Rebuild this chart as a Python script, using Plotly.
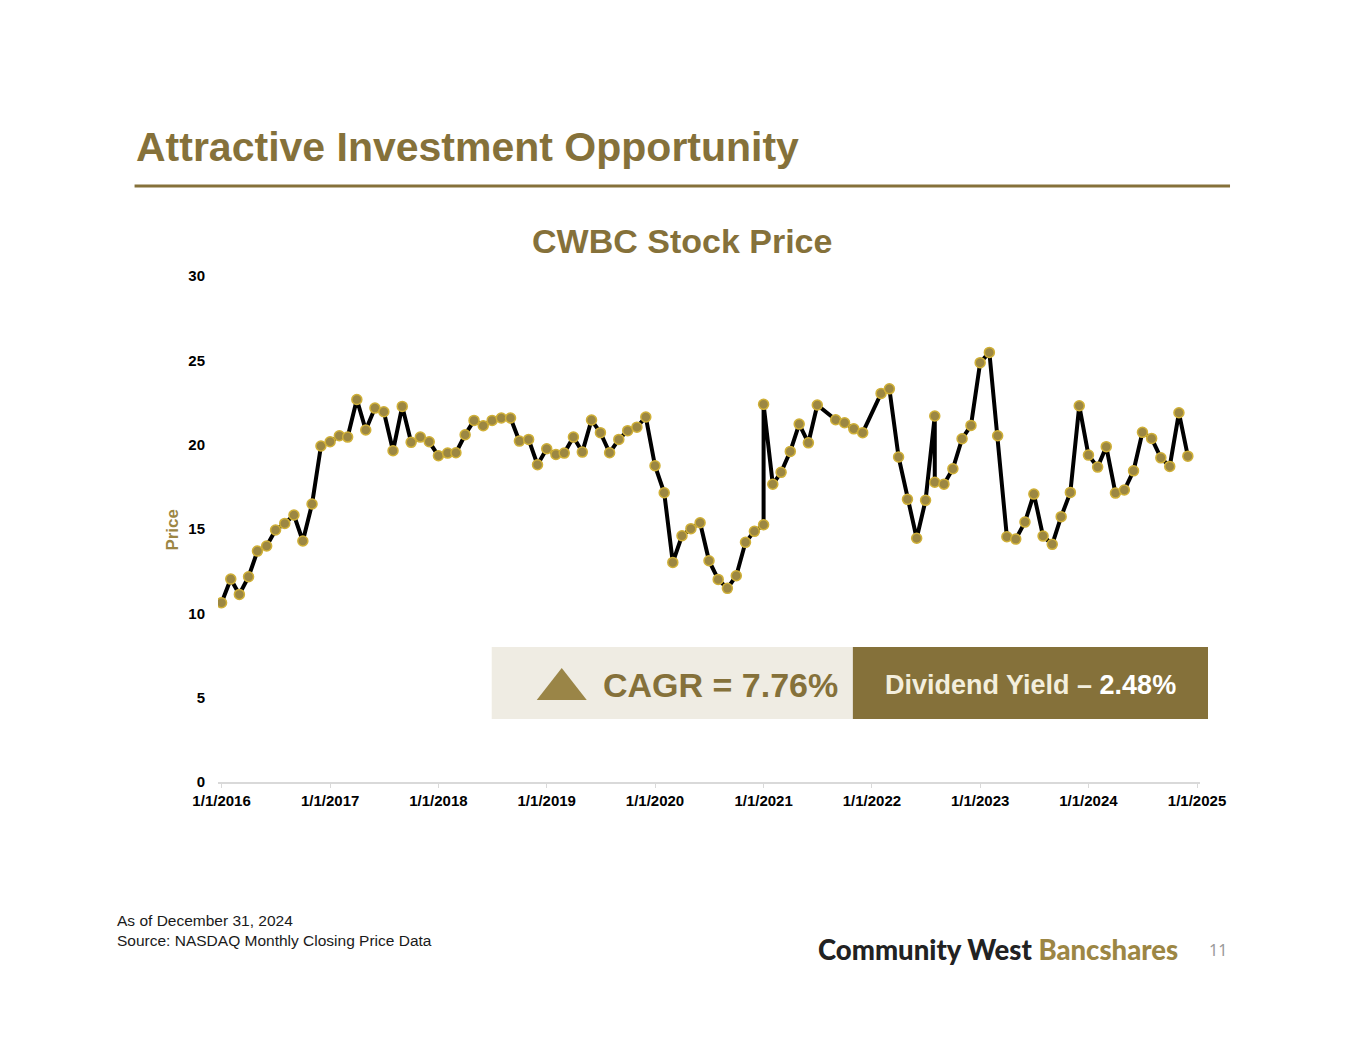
import plotly.graph_objects as go

# monthly closing prices (duplicate / missing months kept as drawn)
months = [
    "2016-01", "2016-02", "2016-03", "2016-04", "2016-05", "2016-06", "2016-07", "2016-08", "2016-09", "2016-10", "2016-11", "2016-12",
    "2017-01", "2017-02", "2017-03", "2017-04", "2017-05", "2017-06", "2017-07", "2017-08", "2017-09", "2017-10", "2017-11", "2017-12",
    "2018-01", "2018-02", "2018-03", "2018-04", "2018-05", "2018-06", "2018-07", "2018-08", "2018-09", "2018-10", "2018-11", "2018-12",
    "2019-01", "2019-02", "2019-03", "2019-04", "2019-05", "2019-06", "2019-07", "2019-08", "2019-09", "2019-10", "2019-11", "2019-12",
    "2020-01", "2020-02", "2020-03", "2020-04", "2020-05", "2020-06", "2020-07", "2020-08", "2020-09", "2020-10", "2020-11", "2020-12",
    "2021-01", "2021-01", "2021-02", "2021-03", "2021-04", "2021-05", "2021-06", "2021-07", "2021-09", "2021-10", "2021-11", "2021-12",
    "2022-02", "2022-03", "2022-04", "2022-05", "2022-06", "2022-07", "2022-08", "2022-08", "2022-09", "2022-10", "2022-11", "2022-12",
    "2023-01", "2023-02", "2023-03", "2023-04", "2023-05", "2023-06", "2023-07", "2023-08", "2023-09", "2023-10", "2023-11", "2023-12",
    "2024-01", "2024-02", "2024-03", "2024-04", "2024-05", "2024-06", "2024-07", "2024-08", "2024-09", "2024-10", "2024-11", "2024-12",
]
prices = [
    10.63, 12.03, 11.12, 12.17, 13.69, 13.99, 14.94, 15.33, 15.83, 14.29, 16.48, 19.92,
    20.17, 20.53, 20.45, 22.68, 20.87, 22.17, 21.95, 19.64, 22.27, 20.14, 20.45, 20.17,
    19.34, 19.50, 19.52, 20.59, 21.44, 21.12, 21.44, 21.58, 21.58, 20.21, 20.31, 18.81,
    19.76, 19.42, 19.50, 20.45, 19.56, 21.46, 20.71, 19.52, 20.31, 20.83, 21.04, 21.64,
    18.75, 17.15, 13.02, 14.60, 15.02, 15.37, 13.12, 12.01, 11.48, 12.23, 14.21, 14.86,
    15.25, 22.39, 17.65, 18.36, 19.60, 21.22, 20.11, 22.35, 21.48, 21.30, 20.94, 20.71,
    23.04, 23.31, 19.27, 16.76, 14.45, 16.70, 21.70, 17.77, 17.66, 18.57, 20.35, 21.14,
    24.86, 25.47, 20.53, 14.54, 14.40, 15.41, 17.07, 14.58, 14.09, 15.73, 17.17, 22.31,
    19.38, 18.67, 19.88, 17.13, 17.31, 18.45, 20.73, 20.37, 19.22, 18.71, 21.89, 19.32,
]

cagr_text = "CAGR = 7.76%"
yield_label = "Dividend Yield – "
yield_value = "2.48%"

OLIVE = "#85713A"
OLIVE_LIGHT = "#9C8644"
FONT = "Arial, Liberation Sans, sans-serif"

W, H = 1365, 1055
# plot area in page pixels
L, R, T, B = 218.4, 1200, 276, 782


def px(x):
    return (x - L) / (R - L)


def py(y):
    return (B - y) / (B - T)


fig = go.Figure()
fig.add_trace(go.Scatter(
    x=[m + "-01" for m in months], y=prices,
    mode="lines+markers",
    line=dict(color="black", width=4),
    marker=dict(size=10, color="#9C8742", line=dict(color="#D0B037", width=1.5)),
    hoverinfo="x+y",
))

fig.update_xaxes(
    type="date", range=["2015-12-20", "2025-01-11"],
    tick0="2016-01-01", dtick="M12", tickformat="%-m/%-d/%Y",
    showgrid=False, zeroline=False,
    showline=True, linecolor="#d9d9d9", linewidth=1.5,
    ticks="outside", ticklen=4, tickcolor="#d9d9d9",
    tickfont=dict(family=FONT, size=15, color="black", weight="bold"),
)
fig.update_yaxes(
    range=[0, 30], dtick=5,
    showgrid=False, zeroline=False, showline=False,
    tickfont=dict(family=FONT, size=15, color="black", weight="bold"),
    ticklabelstandoff=12,
)

shapes = [
    # rule under the slide title
    dict(type="line", xref="paper", yref="paper", x0=px(135), x1=px(1230), y0=py(186), y1=py(186),
         line=dict(color=OLIVE, width=3)),
    # CAGR / dividend boxes
    dict(type="rect", xref="paper", yref="paper", x0=px(492), x1=px(853), y0=py(719), y1=py(647),
         fillcolor="#EFECE3", line=dict(width=0), layer="above"),
    dict(type="rect", xref="paper", yref="paper", x0=px(853), x1=px(1208), y0=py(719), y1=py(647),
         fillcolor=OLIVE, line=dict(width=0), layer="above"),
    dict(type="path", xref="paper", yref="paper",
         path=f"M {px(537)} {py(700)} L {px(587)} {py(700)} L {px(562)} {py(668)} Z",
         fillcolor="#9A8547", line=dict(width=0), layer="above"),
]

annotations = [
    dict(text="Attractive Investment Opportunity", x=px(134), y=py(147), xanchor="left", yanchor="middle",
         font=dict(family=FONT, size=41, color=OLIVE, weight="bold")),
    dict(text="CWBC Stock Price", x=px(682), y=py(241), xanchor="center", yanchor="middle",
         font=dict(family=FONT, size=34, color=OLIVE, weight="bold")),
    dict(text="Price", x=px(172), y=py(530), xanchor="center", yanchor="middle", textangle=-90,
         font=dict(family=FONT, size=17, color=OLIVE_LIGHT, weight="bold")),
    dict(text=cagr_text, x=px(601), y=py(685), xanchor="left", yanchor="middle",
         font=dict(family=FONT, size=34, color=OLIVE, weight="bold")),
    dict(text=f"<span style='color:#F3EEDD'>{yield_label}</span>{yield_value}", x=px(1031), y=py(685),
         xanchor="center", yanchor="middle",
         font=dict(family=FONT, size=27, color="white", weight="bold")),
    dict(text="As of December 31, 2024<br>Source: NASDAQ Monthly Closing Price Data", x=px(115), y=py(930),
         xanchor="left", yanchor="middle", align="left",
         font=dict(family=FONT, size=15.5, color="#1a1a1a")),
    dict(text="<span style='color:#222222'>Community West</span> <span style='color:#9C8644'>Bancshares</span>",
         x=px(816), y=py(949), xanchor="left", yanchor="middle",
         font=dict(family="Lato, sans-serif", size=27.5, weight=900)),
    dict(text="11", x=px(1218), y=py(950), xanchor="center", yanchor="middle",
         font=dict(family="Noto Sans, sans-serif", size=16, color="#9a9a9a")),
]
for a in annotations:
    a.update(xref="paper", yref="paper", showarrow=False)

fig.update_layout(
    width=W, height=H,
    margin=dict(l=L, r=W - R, t=T, b=H - B),
    paper_bgcolor="white", plot_bgcolor="white",
    showlegend=False,
    shapes=shapes,
    annotations=annotations,
)

fig.write_html("out.html", config={"displayModeBar": False},
               post_script="document.body.style.margin='0';")
